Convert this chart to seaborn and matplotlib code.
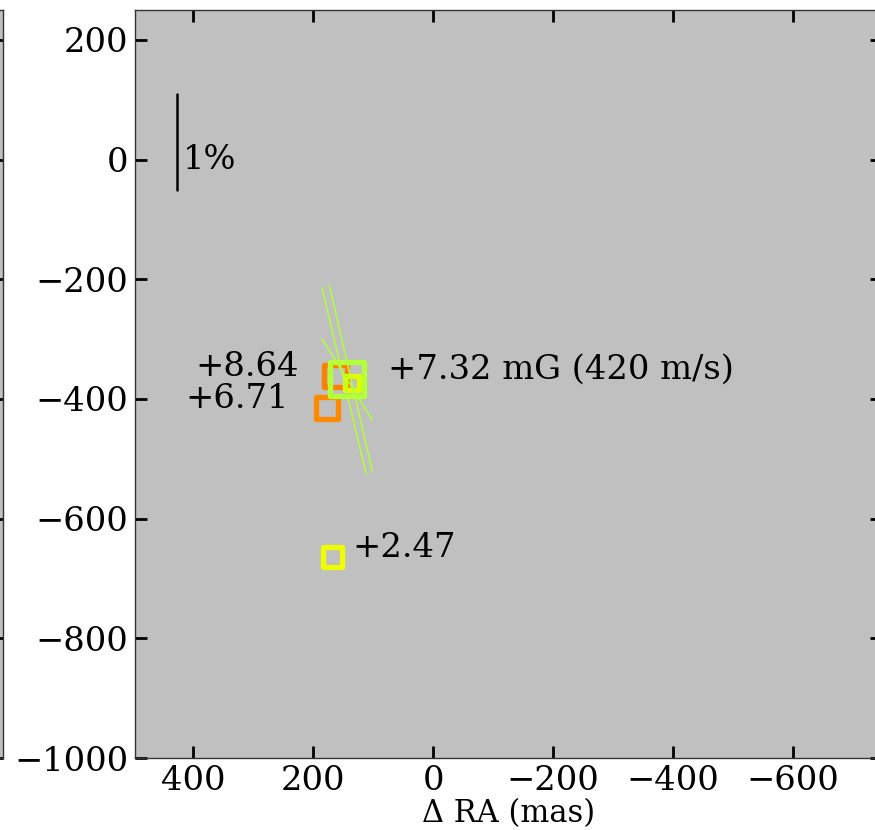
import numpy as np
import pandas as pd
import matplotlib
matplotlib.use("Agg")
import matplotlib.pyplot as plt
import seaborn as sns

# Maser spot offsets (mas) and their labels
spot_ra = [163, 177, 168, 143, 135]
spot_dec = [-362, -415, -664, -367, -373]
spot_labels = ["+8.64", "+6.71", "+2.47", "+7.32 mG (420 m/s)", ""]
spot_colors = ["#FF7F00", "#FF8A00", "#F0FF00", "#B2FF3A", "#DCFF00"]
spot_sizes = [16, 16, 14, 24.5, 10]          # marker side in points
label_ra = [397, 413, 135, 75, None]

# Linear polarization vectors: centre (mas), fraction (%), position angle (deg)
vec_ra = [148.7, 137.2, 143.3]
vec_dec = [-369.5, -366.0, -367.5]
vec_frac = [2.0, 2.0, 1.0]
vec_pa = [13.3, 13.0, 31.6]
mas_per_percent = 160.0

yticks = [200, 0, -200, -400, -600, -800, -1000]
xticks = [400, 200, 0, -200, -400, -600]

sns.set_theme(style="ticks")
plt.rcParams["font.family"] = ["DejaVu Serif"]
plt.rcParams["mathtext.fontset"] = "dejavuserif"
for key in ["text.color", "axes.labelcolor", "xtick.color", "ytick.color"]:
    plt.rcParams[key] = "black"

fig = plt.figure(figsize=(8.75, 8.3), dpi=100)
W, H = 875.0, 830.0
bg = "#C0C0C0"

# neighbouring panel (only its right edge shows)
axl = fig.add_axes([-300 / W, 72 / H, 303 / W, 748 / H])
axl.set_facecolor(bg)
axl.set_xlim(0, 1)
axl.set_ylim(-1000, 250)
axl.set_yticks(yticks)
axl.set_xticks([])
axl.tick_params(axis="y", direction="in", right=True, left=False,
                labelleft=False, length=8.6, width=2, color="black")
for s in axl.spines.values():
    s.set_color("#333333")
    s.set_linewidth(1.0)

ax = fig.add_axes([135 / W, 72 / H, 747 / W, 748 / H])
ax.set_facecolor(bg)

df = pd.DataFrame({"ra": spot_ra, "dec": spot_dec})
sns.scatterplot(data=df, x="ra", y="dec", ax=ax, marker="s",
                s=np.array(spot_sizes) ** 2, legend=False, zorder=3)
coll = ax.collections[-1]
coll.set_facecolor("none")
coll.set_edgecolor(spot_colors)
coll.set_linewidth(3.8)
coll.set_joinstyle("round")
coll.set_sizes(np.array(spot_sizes) ** 2)

for x, y, pa, f in zip(vec_ra, vec_dec, vec_pa, vec_frac):
    half = 0.5 * f * mas_per_percent
    dx = half * np.sin(np.radians(pa))
    dy = half * np.cos(np.radians(pa))
    ax.plot([x + dx, x - dx], [y + dy, y - dy], color="#B2FF3A", lw=1.1, zorder=4)

for lx, y, t in zip(label_ra, spot_dec, spot_labels):
    if t:
        ax.text(lx, y, t, fontsize=24.3, ha="left", va="baseline", zorder=5)

# 1% scale bar
ax.plot([427, 427], [-50, -50 + mas_per_percent], color="black", lw=1.8)
ax.text(417, -15, "1%", fontsize=24.3, ha="left", va="baseline")

ax.set_xlim(497, -748)
ax.set_ylim(-1000, 250)
ax.set_xticks(xticks)
ax.set_yticks(yticks)
ax.set_xticklabels([f"{v}".replace("-", "\u2212") for v in xticks])
ax.set_yticklabels([f"{v}".replace("-", "\u2212") for v in yticks])
ax.tick_params(direction="in", top=True, right=True, length=8.6, width=2,
               labelsize=24.3, pad=5, color="black", labelcolor="black")
ax.set_xlabel("\u0394 RA (mas)", fontsize=22, labelpad=1)
ax.set_ylabel("")
for s in ax.spines.values():
    s.set_color("#333333")
    s.set_linewidth(1.0)

fig.savefig("out.png", dpi=100, facecolor="white")
